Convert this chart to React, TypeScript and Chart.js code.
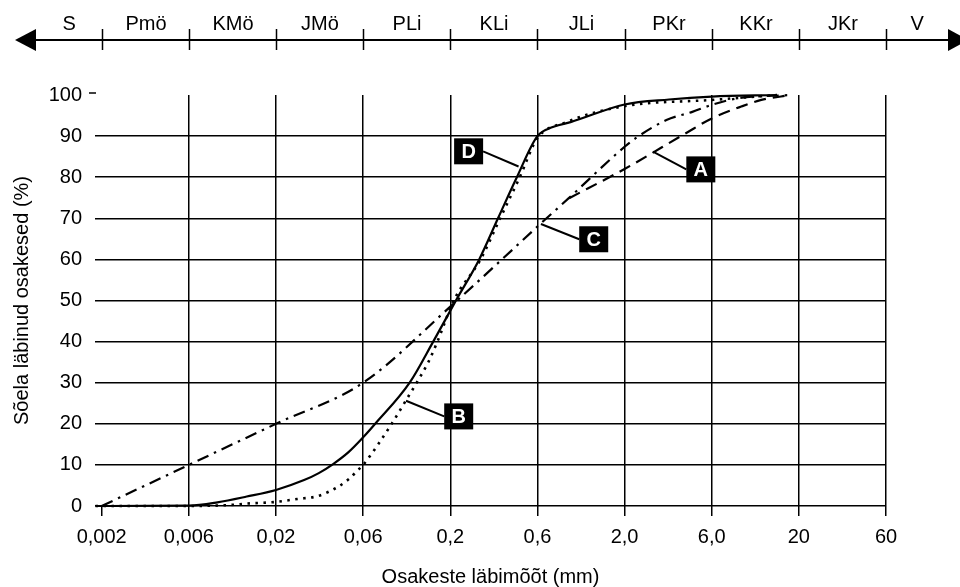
import React, { useEffect, useRef } from 'react';
import { Chart, registerables } from 'chart.js';

Chart.register(...registerables);

// ---- axis definitions ----
const sizeTicks = [0.002, 0.006, 0.02, 0.06, 0.2, 0.6, 2, 6, 20, 60];
const sizeTickLabels = ['0,002', '0,006', '0,02', '0,06', '0,2', '0,6', '2,0', '6,0', '20', '60'];
const fractionLabels = ['S', 'Pmö', 'KMö', 'JMö', 'PLi', 'KLi', 'JLi', 'PKr', 'KKr', 'JKr', 'V'];
const percentTicks = [0, 10, 20, 30, 40, 50, 60, 70, 80, 90, 100];

// ---- curve A (dashed) ----
const aSize = [0.93, 2.0, 4.33, 6.0, 9.03, 11.9, 17.9];
const aPass = [74.9, 82, 90.7, 94.3, 97.2, 98.8, 100];

// ---- curve B (dotted) ----
const bSize = [0.00185, 0.006, 0.0106, 0.0135, 0.02, 0.0261, 0.0338, 0.0438, 0.0499, 0.0567, 0.06, 0.0682, 0.0744, 0.09, 0.1073, 0.1257, 0.1477, 0.1674, 0.209, 0.293, 0.375, 0.48, 0.6, 0.882, 2.0, 6.0, 14.8];
const bPass = [0, 0, 0.25, 0.6, 1.0, 1.7, 2.4, 4.7, 6.5, 8.9, 10.0, 13.0, 15.2, 20.3, 25.4, 30, 35, 40, 50, 60, 70, 80, 89.5, 93.3, 97.3, 98.8, 100];

// ---- curve C (dash-dot) ----
const cSize = [0.002, 0.006, 0.02, 0.06, 0.2, 0.434, 0.6, 0.925, 2.0, 2.3, 3.39, 4.7, 6.0, 8.62, 17.9];
const cPass = [0, 10, 20, 30, 48.5, 62.2, 68, 74.9, 87.4, 89.5, 93.9, 95.9, 97.6, 99.2, 100];

// ---- curve D (solid) ----
const dSize = [0.00185, 0.006, 0.0089, 0.01335, 0.02, 0.0285, 0.0343, 0.0411, 0.0499, 0.06, 0.0709, 0.1141, 0.158, 0.2148, 0.288, 0.365, 0.463, 0.6, 0.742, 0.948, 2.0, 3.5, 6.0, 14.8];
const dPass = [0, 0.1, 0.9, 2.3, 3.9, 6.3, 8.0, 10.2, 13.1, 16.7, 20, 30, 40, 50, 60, 70, 80, 90, 92.2, 93.4, 97.7, 98.9, 99.6, 100];

// ---- curve labels ----
const curveNames = ['A', 'B', 'C', 'D'];
const labelBoxSize = [5.23, 0.2224, 1.306, 0.252];
const labelBoxPass = [81.9, 21.8, 64.9, 86.3];
const leaderSize = [2.86, 0.1085, 0.63, 0.473];
const leaderPass = [86.2, 25.6, 68.6, 82.6];

const FONT = "'Liberation Sans', Arial, Helvetica, sans-serif";
const FS = 20;

// maps a grain size (mm) to the position along the graded (equally spaced) axis
function sizeToPos(mm: number): number {
  const n = sizeTicks.length;
  for (let i = 0; i < n - 1; i++) {
    const a = sizeTicks[i];
    const b = sizeTicks[i + 1];
    if (mm <= b || i === n - 2) return i + Math.log(mm / a) / Math.log(b / a);
  }
  return 0;
}

const toPoints = (sizes: number[], pass: number[]) =>
  sizes.map((s, i) => ({ x: sizeToPos(s), y: pass[i] }));

const overlayPlugin = {
  id: 'overlay',
  afterDraw(chart: any) {
    const { ctx } = chart;
    const xs = chart.scales.x;
    const ys = chart.scales.y;
    ctx.save();
    ctx.strokeStyle = '#000';
    ctx.fillStyle = '#000';

    // top fraction band
    const yLine = 40;
    const leftTip = 15;
    const leftBase = 36;
    const rightBase = 948;
    const rightTip = 968;
    ctx.lineWidth = 2;
    ctx.beginPath();
    ctx.moveTo(leftBase, yLine);
    ctx.lineTo(rightBase, yLine);
    ctx.stroke();
    ctx.beginPath();
    ctx.moveTo(leftTip, yLine);
    ctx.lineTo(leftBase, yLine - 11);
    ctx.lineTo(leftBase, yLine + 11);
    ctx.closePath();
    ctx.fill();
    ctx.beginPath();
    ctx.moveTo(rightTip, yLine);
    ctx.lineTo(rightBase, yLine - 11);
    ctx.lineTo(rightBase, yLine + 11);
    ctx.closePath();
    ctx.fill();
    ctx.lineWidth = 1.5;
    const bounds: number[] = [leftBase];
    sizeTicks.forEach((_, i) => {
      const px = Math.round(xs.getPixelForValue(i)) + 0.5;
      bounds.push(px);
      ctx.beginPath();
      ctx.moveTo(px, yLine - 11);
      ctx.lineTo(px, yLine + 10);
      ctx.stroke();
    });
    bounds.push(rightBase);
    ctx.font = `${FS}px ${FONT}`;
    ctx.textAlign = 'center';
    ctx.textBaseline = 'middle';
    fractionLabels.forEach((t, i) => {
      ctx.fillText(t, (bounds[i] + bounds[i + 1]) / 2, 24.5);
    });

    // short dash next to the 100 label
    const y100 = ys.getPixelForValue(100) - 2;
    ctx.lineWidth = 1.5;
    ctx.beginPath();
    ctx.moveTo(89, y100);
    ctx.lineTo(96, y100);
    ctx.stroke();

    // curve labels with leader lines
    const bw = 29;
    const bh = 26;
    curveNames.forEach((name, i) => {
      const cx = xs.getPixelForValue(sizeToPos(labelBoxSize[i]));
      const cy = ys.getPixelForValue(labelBoxPass[i]);
      const tx = xs.getPixelForValue(sizeToPos(leaderSize[i]));
      const ty = ys.getPixelForValue(leaderPass[i]);
      const ex = tx < cx ? cx - bw / 2 : cx + bw / 2;
      ctx.strokeStyle = '#000';
      ctx.lineWidth = 2;
      ctx.beginPath();
      ctx.moveTo(ex, cy);
      ctx.lineTo(tx, ty);
      ctx.stroke();
      ctx.fillStyle = '#000';
      ctx.fillRect(cx - bw / 2, cy - bh / 2, bw, bh);
      ctx.fillStyle = '#fff';
      ctx.font = `bold 20px ${FONT}`;
      ctx.textAlign = 'center';
      ctx.textBaseline = 'middle';
      ctx.fillText(name, cx, cy + 1);
    });
    ctx.restore();
  },
};

export default function App() {
  const ref = useRef<HTMLCanvasElement | null>(null);

  useEffect(() => {
    document.body.style.margin = '0';
    const canvas = ref.current;
    if (!canvas) return;
    const font = { family: FONT, size: FS };
    const common = {
      borderColor: '#000',
      pointRadius: 0,
      fill: false,
      cubicInterpolationMode: 'monotone' as const,
      clip: false as any,
    };
    const chart = new Chart(canvas, {
      type: 'line',
      data: {
        datasets: [
          { ...common, label: 'A', data: toPoints(aSize, aPass), borderWidth: 2.2, borderDash: [12, 7] },
          { ...common, label: 'B', data: toPoints(bSize, bPass), borderWidth: 2.6, borderDash: [2.5, 5.5] },
          { ...common, label: 'C', data: toPoints(cSize, cPass), borderWidth: 2.2, borderDash: [12, 6, 2.5, 6] },
          { ...common, label: 'D', data: toPoints(dSize, dPass), borderWidth: 2.2 },
        ],
      },
      options: {
        responsive: false,
        animation: false,
        layout: { padding: { top: 95, right: 74, left: 0, bottom: 0 } },
        plugins: { legend: { display: false }, tooltip: { enabled: false } },
        scales: {
          x: {
            type: 'linear',
            min: -0.077,
            max: sizeTicks.length - 1,
            afterBuildTicks: (s: any) => {
              s.ticks = sizeTicks.map((_, i) => ({ value: i }));
            },
            afterFit: (s: any) => {
              s.height = 81;
            },
            grid: {
              color: (c: any) => (c.tick && c.tick.value === 0 ? 'rgba(0,0,0,0)' : '#000'),
              tickColor: '#000',
              lineWidth: 1.5,
              drawTicks: true,
              tickLength: 10,
            },
            border: { display: false },
            ticks: {
              callback: (_v: any, i: number) => sizeTickLabels[i],
              font,
              color: '#000',
              padding: 9,
              maxRotation: 0,
              autoSkip: false,
            },
            title: {
              display: true,
              text: 'Osakeste läbimõõt (mm)',
              font,
              color: '#000',
              padding: { top: 0, bottom: -2 },
            },
          },
          y: {
            type: 'linear',
            min: 0,
            max: 100,
            afterBuildTicks: (s: any) => {
              s.ticks = percentTicks.map((v) => ({ value: v }));
            },
            afterFit: (s: any) => {
              s.width = 95;
            },
            grid: {
              color: (c: any) => (c.tick && c.tick.value === 100 ? 'rgba(0,0,0,0)' : '#000'),
              lineWidth: 1.5,
              drawTicks: false,
            },
            border: { display: false },
            ticks: { font, color: '#000', padding: 13 },
            title: {
              display: true,
              text: 'Sõela läbinud osakesed (%)',
              font,
              color: '#000',
              padding: { top: 10, bottom: 0 },
            },
          },
        },
      },
      plugins: [overlayPlugin],
    });
    return () => chart.destroy();
  }, []);

  return (
    <div style={{ width: 960, height: 587, background: '#fff' }}>
      <canvas ref={ref} width={960} height={587} style={{ display: 'block' }} />
    </div>
  );
}
